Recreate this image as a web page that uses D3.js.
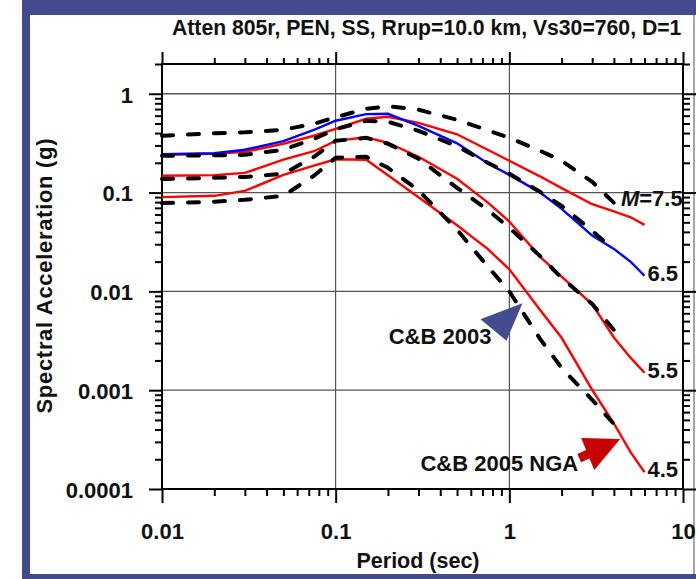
<!DOCTYPE html>
<html>
<head>
<meta charset="utf-8">
<script src="https://cdn.jsdelivr.net/npm/d3@7"></script>
<style>
  body { margin: 0; background: #fff; }
  svg text { font-family: "Liberation Sans", Arial, sans-serif; font-weight: bold; fill: #111; }
</style>
</head>
<body>
<svg id="chart" width="696" height="579"></svg>
<script>
const periodsNGA = [0.01, 0.02, 0.03, 0.05, 0.075, 0.1, 0.15, 0.2, 0.3, 0.5, 0.75, 1, 1.5, 2, 3, 4, 5, 6]
const periods2003 = [0.01, 0.02, 0.03, 0.05, 0.075, 0.1, 0.15, 0.2, 0.3, 0.5, 0.75, 1, 1.5, 2, 3, 4]

// C&B 2005 NGA (solid), Sa in g
const nga75 = [0.241, 0.247, 0.258, 0.312, 0.376, 0.442, 0.558, 0.585, 0.508, 0.389, 0.271, 0.21, 0.146, 0.111, 0.0762, 0.0644, 0.0562, 0.0471]
const nga65 = [0.244, 0.25, 0.271, 0.332, 0.432, 0.533, 0.622, 0.627, 0.474, 0.315, 0.198, 0.151, 0.1005, 0.0684, 0.0367, 0.0269, 0.0199, 0.0144]
const nga55 = [0.148, 0.15, 0.158, 0.215, 0.262, 0.334, 0.363, 0.319, 0.23, 0.138, 0.0796, 0.0509, 0.0225, 0.0141, 0.00741, 0.00342, 0.00212, 0.0015]
const nga45 = [0.09, 0.0927, 0.104, 0.151, 0.187, 0.217, 0.215, 0.15, 0.0895, 0.0466, 0.0269, 0.0167, 0.00652, 0.00339, 0.00101, 0.00046, 0.000235, 0.000148]

// C&B 2003 (dashed)
const cb75 = [0.376, 0.398, 0.407, 0.432, 0.497, 0.578, 0.705, 0.747, 0.689, 0.545, 0.427, 0.358, 0.265, 0.21, 0.1285, 0.0787]
const cb65 = [0.236, 0.238, 0.241, 0.271, 0.35, 0.437, 0.533, 0.521, 0.422, 0.294, 0.2, 0.155, 0.1018, 0.0734, 0.041, 0.0263]
const cb55 = [0.137, 0.141, 0.144, 0.155, 0.23, 0.334, 0.358, 0.312, 0.22, 0.1117, 0.0669, 0.044, 0.0229, 0.0137, 0.00747, 0.00407]
const cb45 = [0.0782, 0.0806, 0.0845, 0.0927, 0.148, 0.225, 0.23, 0.178, 0.105, 0.0421, 0.0179, 0.01, 0.00332, 0.00168, 0.0008, 0.000455]

const xTickLabels = ["0.01", "0.1", "1", "10"]
const yTickLabels = ["0.0001", "0.001", "0.01", "0.1", "1"]
const magLabels = ["7.5", "6.5", "5.5", "4.5"]

// arrow tips (period, Sa)
const arrow2003 = [1.19, 0.0076]
const arrowNGA = [4.35, 0.00032]

const titleText = "Atten 805r, PEN, SS, Rrup=10.0 km, Vs30=760, D=1"
const frameBlue = "#414b8d"
const FS = 22

const svg = d3.select("#chart")

const x = d3.scaleLog().domain([0.01, 10]).range([162, 683])
const y = d3.scaleLog().domain([0.0001, 2]).range([489, 64])
const [x0, x1] = x.range()
const [y0, y1] = y.range()

// outer blue frame
svg.append("rect").attr("x", 22).attr("y", 0).attr("width", 674).attr("height", 15).attr("fill", frameBlue)
svg.append("rect").attr("x", 22).attr("y", 0).attr("width", 8).attr("height", 579).attr("fill", frameBlue)
svg.append("rect").attr("x", 22).attr("y", 574).attr("width", 674).attr("height", 5).attr("fill", frameBlue)
svg.append("line").attr("x1", 694).attr("x2", 694).attr("y1", 15).attr("y2", 574)
    .attr("stroke", "#8a8a8a").attr("stroke-width", 1.5)

// grid at decades
const xMajor = xTickLabels.map(Number)
const yMajor = yTickLabels.map(Number)
svg.append("g").selectAll("line")
    .data(xMajor.filter(d => d > 0.01 && d < 10))
    .join("line")
    .attr("x1", d => x(d)).attr("x2", d => x(d))
    .attr("y1", y1).attr("y2", y0)
    .attr("stroke", "#333").attr("stroke-width", 1)
svg.append("g").selectAll("line")
    .data(yMajor.filter(d => d > 0.0001))
    .join("line")
    .attr("x1", x0).attr("x2", x1)
    .attr("y1", d => y(d)).attr("y2", d => y(d))
    .attr("stroke", "#555").attr("stroke-width", 1.3)

// plot box
svg.append("rect")
    .attr("x", x0).attr("y", y1).attr("width", x1 - x0).attr("height", y0 - y1)
    .attr("fill", "none").attr("stroke", "#000").attr("stroke-width", 2)

// axes: major + minor ticks on all four sides
const xMinor = x.ticks().filter(d => !xMajor.some(m => Math.abs(m - d) < 1e-9))
const yMinor = y.ticks().filter(d => !yMajor.some(m => Math.abs(m - d) < 1e-12))

function styleAxis(g) {
    g.select(".domain").remove()
    g.selectAll("line").attr("stroke", "#000").attr("stroke-width", 2)
    g.selectAll("text").attr("fill", "#111")
    g.attr("font-family", "Liberation Sans, Arial, sans-serif").attr("font-size", FS).attr("font-weight", "bold")
}

svg.append("g").attr("transform", `translate(0,${y0})`)
    .call(d3.axisBottom(x).tickValues(xMajor).tickSize(14).tickPadding(20).tickFormat((d, i) => xTickLabels[i]))
    .call(styleAxis)
svg.append("g").attr("transform", `translate(0,${y0})`)
    .call(d3.axisBottom(x).tickValues(xMinor).tickSize(7).tickFormat(""))
    .call(styleAxis)
svg.append("g").attr("transform", `translate(0,${y1})`)
    .call(d3.axisTop(x).tickValues(xMajor).tickSize(12).tickFormat(""))
    .call(styleAxis)
svg.append("g").attr("transform", `translate(0,${y1})`)
    .call(d3.axisTop(x).tickValues(xMinor).tickSize(6).tickFormat(""))
    .call(styleAxis)

svg.append("g").attr("transform", `translate(${x0},0)`)
    .call(d3.axisLeft(y).tickValues(yMajor).tickSize(13).tickPadding(16).tickFormat((d, i) => yTickLabels[i]))
    .call(styleAxis)
    .call(g => g.selectAll("text").attr("dy", "0.38em"))
svg.append("g").attr("transform", `translate(${x0},0)`)
    .call(d3.axisLeft(y).tickValues(yMinor).tickSize(7).tickFormat(""))
    .call(styleAxis)
svg.append("g").attr("transform", `translate(${x1},0)`)
    .call(d3.axisRight(y).tickValues(yMajor).tickSize(13).tickFormat(""))
    .call(styleAxis)
svg.append("g").attr("transform", `translate(${x1},0)`)
    .call(d3.axisRight(y).tickValues(yMinor).tickSize(7).tickFormat(""))
    .call(styleAxis)

// curves
const line = d3.line().x(d => x(d[0])).y(d => y(d[1]))
const zipP = (ps, vs) => ps.map((p, i) => [p, vs[i]])

const ngaRed = [nga75, nga55, nga45]
svg.append("g").selectAll("path")
    .data(ngaRed.map(v => zipP(periodsNGA, v)))
    .join("path")
    .attr("d", line)
    .attr("fill", "none").attr("stroke", "#ff0000").attr("stroke-width", 2.4)
svg.append("path")
    .datum(zipP(periodsNGA, nga65))
    .attr("d", line)
    .attr("fill", "none").attr("stroke", "#0000ff").attr("stroke-width", 2.4)

const cbAll = [cb75, cb65, cb55, cb45]
svg.append("g").selectAll("path")
    .data(cbAll.map(v => zipP(periods2003, v)))
    .join("path")
    .attr("d", line)
    .attr("fill", "none").attr("stroke", "#000").attr("stroke-width", 4)
    .attr("stroke-linecap", "round").attr("stroke-dasharray", "11,15")

// magnitude labels
const lastP = periodsNGA[periodsNGA.length - 1]
const cbEndX = x(periods2003[periods2003.length - 1])
const m75 = svg.append("text")
    .attr("x", cbEndX + 7).attr("y", y(cb75[cb75.length - 1]) + 3)
    .attr("font-size", FS)
m75.append("tspan").attr("font-style", "italic").text("M")
m75.append("tspan").text("=" + magLabels[0])
;[nga65, nga55, nga45].forEach((v, i) => {
    svg.append("text")
        .attr("x", x(lastP) + 3)
        .attr("y", y(v[v.length - 1]) + 5)
        .attr("font-size", FS)
        .text(magLabels[i + 1])
})

// arrows with labels
const bx = x(arrow2003[0]), by = y(arrow2003[1])
svg.append("path")
    .attr("d", `M${bx},${by} L${bx - 42},${by + 16} L${bx - 16},${by + 37.5} Z`)
    .attr("fill", "#434c8f")
svg.append("text")
    .attr("x", bx - 31).attr("y", by + 41)
    .attr("text-anchor", "end").attr("font-size", FS)
    .text("C&B 2003")

const rx = x(arrowNGA[0]), ry = y(arrowNGA[1])
svg.append("line")
    .attr("x1", rx - 30).attr("y1", ry + 14)
    .attr("x2", rx - 41).attr("y2", ry + 19)
    .attr("stroke", "#c80000").attr("stroke-width", 9)
svg.append("path")
    .attr("d", `M${rx},${ry} L${rx - 39},${ry - 1} L${rx - 26},${ry + 31} Z`)
    .attr("fill", "#c80000")
svg.append("text")
    .attr("x", rx - 42).attr("y", ry + 32)
    .attr("text-anchor", "end").attr("font-size", FS)
    .text("C&B 2005 NGA")

// title and axis titles
svg.append("text")
    .attr("x", 172).attr("y", 35)
    .attr("font-size", 21.2)
    .text(titleText)

svg.append("text")
    .attr("x", 418).attr("y", 568)
    .attr("text-anchor", "middle").attr("font-size", FS)
    .attr("textLength", 123).attr("lengthAdjust", "spacingAndGlyphs")
    .text("Period (sec)")

svg.append("text")
    .attr("transform", "translate(52,276) rotate(-90)")
    .attr("text-anchor", "middle").attr("font-size", FS)
    .attr("textLength", 275).attr("lengthAdjust", "spacing")
    .text("Spectral Acceleration (g)")
</script>
</body>
</html>
